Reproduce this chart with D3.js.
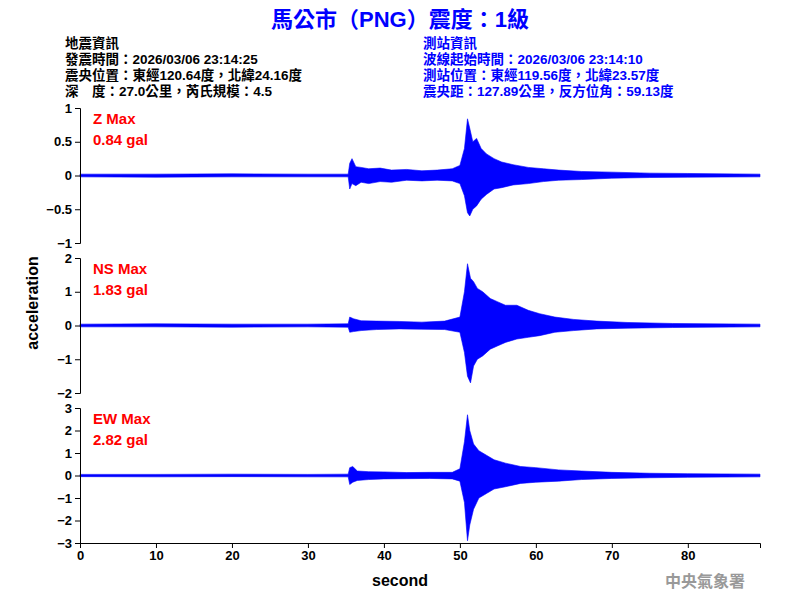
<!DOCTYPE html><html><head><meta charset="utf-8"><script src="https://cdn.jsdelivr.net/npm/d3@7"></script>
<style>body{margin:0;background:#fff}</style></head><body><svg id="c" width="800" height="600"></svg><script>
const title="馬公市（PNG）震度：1級";
const leftInfo=["地震資訊","發震時間：2026/03/06 23:14:25","震央位置：東經120.64度，北緯24.16度","深　度：27.0公里，芮氏規模：4.5"];
const rightInfo=["測站資訊","波線起始時間：2026/03/06 23:14:10","測站位置：東經119.56度，北緯23.57度","震央距：127.89公里，反方位角：59.13度"];
const channels=["Z","NS","EW"];
const maxLabels=["0.84 gal","1.83 gal","2.82 gal"];
const yLimits=[1,2,3];
const yTicksZ=[-1,-0.5,0,0.5,1], yTicksNS=[-2,-1,0,1,2], yTicksEW=[-3,-2,-1,0,1,2,3];
const xTicks=[0,10,20,30,40,50,60,70,80];
// envelope: [time s, min, max]
const envZ=[[0,-0.02,0.02],[10,-0.025,0.02],[20,-0.02,0.025],[30,-0.02,0.02],[35.3,-0.02,0.02],[35.5,-0.2,0.18],[35.8,-0.12,0.25],[36.3,-0.15,0.13],[37,-0.1,0.12],[38,-0.12,0.1],[39.5,-0.09,0.11],[41,-0.1,0.08],[43,-0.07,0.09],[45,-0.08,0.07],[47,-0.07,0.08],[49,-0.08,0.1],[50,-0.12,0.15],[50.6,-0.3,0.4],[51,-0.55,0.84],[51.3,-0.6,0.7],[51.7,-0.5,0.5],[52.2,-0.45,0.55],[52.8,-0.35,0.4],[53.5,-0.28,0.32],[54.5,-0.2,0.25],[55.5,-0.18,0.2],[57,-0.14,0.16],[59,-0.12,0.12],[61,-0.09,0.1],[63,-0.07,0.08],[66,-0.06,0.06],[70,-0.04,0.05],[75,-0.03,0.035],[80,-0.025,0.03],[89.5,-0.02,0.02]];
const envNS=[[0,-0.04,0.04],[10,-0.04,0.05],[20,-0.05,0.04],[30,-0.04,0.04],[35.3,-0.05,0.05],[35.5,-0.2,0.25],[36,-0.18,0.2],[37,-0.15,0.14],[39,-0.12,0.13],[42,-0.1,0.12],[45,-0.11,0.1],[48,-0.12,0.13],[50,-0.2,0.25],[50.6,-0.8,1.0],[51,-1.5,1.83],[51.4,-1.7,1.4],[51.8,-1.2,1.3],[52.3,-1.0,1.1],[53,-0.9,1.0],[54,-0.7,0.8],[55,-0.6,0.7],[56,-0.5,0.6],[57.5,-0.4,0.6],[59,-0.35,0.45],[60.5,-0.3,0.35],[62.5,-0.2,0.25],[65,-0.15,0.18],[68,-0.1,0.13],[72,-0.08,0.09],[78,-0.06,0.06],[89.5,-0.04,0.04]];
const envEW=[[0,-0.05,0.05],[10,-0.06,0.05],[20,-0.05,0.06],[30,-0.06,0.05],[35.3,-0.06,0.06],[35.5,-0.4,0.35],[35.9,-0.3,0.4],[36.5,-0.22,0.2],[38,-0.18,0.17],[40,-0.15,0.16],[43,-0.14,0.13],[46,-0.13,0.14],[49,-0.15,0.14],[50,-0.25,0.3],[50.6,-1.2,1.5],[51,-2.9,2.7],[51.3,-2.2,2.0],[51.8,-1.5,1.4],[52.5,-1.0,1.1],[53.5,-0.8,0.9],[54.5,-0.6,0.7],[56,-0.5,0.55],[58,-0.35,0.4],[60,-0.3,0.35],[63,-0.25,0.25],[66,-0.18,0.2],[70,-0.13,0.14],[75,-0.1,0.1],[80,-0.08,0.08],[89.5,-0.06,0.06]];
const envs=[envZ,envNS,envEW], yTicks=[yTicksZ,yTicksNS,yTicksEW];
const svg=d3.select("#c");
const font="'Liberation Sans',Arial,sans-serif", cjk="'Liberation Sans','Noto Sans CJK TC',sans-serif";
svg.append("text").attr("x",400).attr("y",27).attr("text-anchor","middle").attr("fill","#0000ff").attr("font-family",cjk).attr("font-weight","bold").attr("font-size",22).text(title);
leftInfo.forEach((t,i)=>svg.append("text").attr("x",65).attr("y",48+i*16).attr("font-family",cjk).attr("font-weight","bold").attr("font-size",13.5).attr("fill","#000").text(t));
rightInfo.forEach((t,i)=>svg.append("text").attr("x",423).attr("y",48+i*16).attr("font-family",cjk).attr("font-weight","bold").attr("font-size",13.5).attr("fill","#0000ff").text(t));
const x=d3.scaleLinear().domain([0,89.5]).range([80,760]);
const tops=[108,258,408], h=135;
channels.forEach((ch,i)=>{
 const y=d3.scaleLinear().domain([-yLimits[i],yLimits[i]]).range([tops[i]+h,tops[i]]);
 const g=svg.append("g");
 g.append("path").datum(envs[i]).attr("fill","#0000ff").attr("stroke","#0000ff").attr("stroke-width",0.6)
  .attr("d",d3.area().x(d=>x(d[0])).y0(d=>y(d[1])).y1(d=>y(d[2])));
 g.append("g").attr("transform","translate(80,0)").call(d3.axisLeft(y).tickValues(yTicks[i]).tickSize(5).tickFormat(d3.format("~g")))
  .call(a=>{a.selectAll("text").attr("font-family",font).attr("font-weight","bold").attr("font-size",13).attr("fill","#000");a.select(".domain").attr("stroke","#000");});
 g.append("text").attr("x",93).attr("y",tops[i]+16).attr("fill","#ff0000").attr("font-family",font).attr("font-weight","bold").attr("font-size",15).text(ch+" Max");
 g.append("text").attr("x",93).attr("y",tops[i]+37).attr("fill","#ff0000").attr("font-family",font).attr("font-weight","bold").attr("font-size",15).text(maxLabels[i]);
});
svg.append("g").attr("transform","translate(0,543)").call(d3.axisBottom(x).tickValues(xTicks).tickSize(5))
 .call(a=>{a.selectAll("text").attr("font-family",font).attr("font-weight","bold").attr("font-size",13).attr("fill","#000");});
svg.append("text").attr("x",400).attr("y",586).attr("text-anchor","middle").attr("font-family",font).attr("font-weight","bold").attr("font-size",16).text("second");
svg.append("text").attr("transform","translate(38,303) rotate(-90)").attr("text-anchor","middle").attr("font-family",font).attr("font-weight","bold").attr("font-size",16).text("acceleration");
svg.append("text").attr("x",745).attr("y",587).attr("text-anchor","end").attr("font-family",cjk).attr("font-weight","bold").attr("font-size",16).attr("fill","#999").text("中央氣象署");
</script></body></html>
